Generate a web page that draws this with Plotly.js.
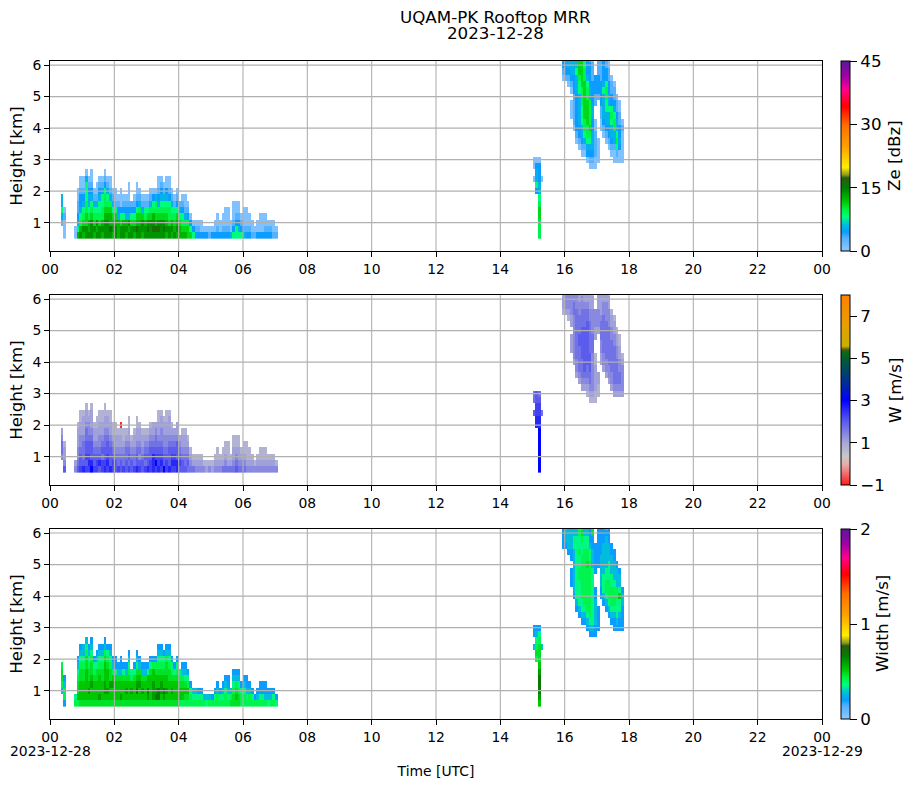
<!DOCTYPE html>
<html>
<head>
<meta charset="utf-8">
<script src="https://cdn.plot.ly/plotly-3.0.1.min.js"></script>
<style>body{margin:0;background:#fff}</style>
</head>
<body>
<div id="chart" style="width:914px;height:788px"></div>
<script>
// radar gates, km (centres)
var heightGates = [0.6,0.8,1.0,1.2,1.4,1.6,1.8,2.0,2.2,2.4,2.6,2.8,3.0,3.2,3.4,3.6,3.8,4.0,4.2,4.4,4.6,4.8,5.0,5.2,5.4,5.6,5.8,6.0,6.2];
var hourTicks = [0,2,4,6,8,10,12,14,16,18,20,22,24];
var hourLabels = ["00","02","04","06","08","10","12","14","16","18","20","22","00"];
var heightTicks = [1,2,3,4,5,6];

// one char per gate going up, "n:" = first gate index, "." = no echo
// each char is an index into the levels list of that field
var zeLevels = [0.8,3,4.5,5.6,8,9.5,11,12.5,14,16];
var wLevels = [0.8,1.1,1.4,1.7,2.0,2.3,2.6,3.0];
var widthLevels = [0.2,0.27,0.35,0.42,0.47,0.52,0.6,0.68];
var wDownward = -0.9; // the one red gate, char r

// 5 min columns, first one is column index given by start*
var startA = 4, startB = 180, startC = 191, startD = 9;

var zeA = ["2:13433","0:00010"];
var zeB = ["9:0.00","7:243320","0:5556654332220","9:0"];
var zeC = ["25:0122","25:1223","24:01233","19:000.012333","17:011111222333","15:01222222333433","14:012233333445666","13:0123344455566666","13:0134556666665544","12:02345566665543222","11:012345655553322221","11:012333223322221110","11:00111100..11222","12:0000......1222111","17:001122221111","16:0123333432222","15:01233445542211","14:012233433221100","13:0123345422110","12:0013355432110","12:01454332110","12:0023221100","12:0000010"];
var zeD = ["00","74321100","8754322100","7865432100","88665544430","8775433210","88865432100","78654310","878543100","8865443210","7875544310","88876554210","8887654310","8977653100","78764310","88764100","7773210","88642000","8874210","7873210","878321000","886421","7864210","897642100","88765310","7886310","8875410","8986410","88865310","89875420","89765530","8986532100","8886543210","898654310","7876543200","8865542100","78754310","8765410","78764210","776431","7654210","7653100","665210","6420","420","210","210","200","20","20","10","20","200","2100","200","2100","21000","21000","300","421000","442100","432100","4210","31000","21000","2100","100","10","200","2000","2000","2100","210","210","100","10"];

var wA = ["2:23321","0:42110"];
var wB = ["9:4.33","7:665544","0:7777777665543","9:3"];
var wC = ["25:0111","25:1222","24:01222","19:111.112222","17:122222223322","15:12233333333222","14:123333443332211","13:1233344444333221","13:1234444444333211","12:01233444444433211","11:012334443333322111","11:012222223332222110","11:00111100..11222","12:0011......1222111","17:112233321111","16:1223333332211","15:12233333322211","14:122333333222110","13:1223333322110","12:1233333322110","12:12333322110","12:1233221100","12:1222210"];
var wD = ["21","43221110","5443221100","6433321110","54544332110","5654432210","76444321110","54432110","554321100","4643221100","5534321100","65443321100","5654432110","6444321100","55432100","44321100","5332110","4432110r","5332100","4433210","534321100","443210","5332110","644321100","54232110","4432110","5343210","6443210","55443210","66643211","57543321","6554321100","5654322110","744322110","5543221100","6444321110","56543210","5654321","66444211","454321","4432110","4332110","343210","3210","310","210","210","210","20","10","20","10","210","2100","210","3100","32100","31000","310","321100","432100","321100","3210","32100","21000","2100","210","20","210","2100","2100","2100","210","210","210","20"];

var widthA = ["2:13443","0:03310"];
var widthB = ["9:1.00","7:343210","0:5677765444320","9:1"];
var widthC = ["25:0000","25:0113","24:01111","19:000.001111","17:011111112211","15:01222222222211","14:012222332232232","13:0122333333322342","13:0123333333332211","12:01233333334332211","11:012333333333221000","11:012222222221110043","11:00111100..00000","12:0000......0000000","17:001111100000","16:0122211111000","15:01233221111102","14:012333222111000","13:0123332211100","12:0012333211100","12:01222331110","12:0012252110","12:0000110"];
var widthD = ["32","35443210","4555443210","4555443211","45555544321","4565443210","45565443210","45554320","455544210","4655543210","4555443210","45665554310","4565554320","4556443210","45565310","45554200","4555410","46554100","4555420","4565410","455543210","456532","4555420","457654210","45565410","4565410","4555410","4675520","45555420","46665530","47655430","4775543210","4566543210","467554320","4565544310","4555443210","45654320","4555420","45554320","355432","3554310","3454210","345320","3320","321","321","320","320","31","21","31","30","320","3310","320","3210","33210","32100","431","443210","454310","443210","3320","33210","32100","3310","320","30","310","3200","3200","3100","210","310","320","20"];

var rainbow = [[0,"#90c8ff"],[0.07,"#50b0ff"],[0.1,"#0a9cff"],[0.14,"#00c0d8"],[0.18,"#00ff78"],[0.22,"#00f040"],[0.26,"#00c800"],[0.33,"#008000"],[0.385,"#2a5a10"],[0.4,"#8a9a20"],[0.44,"#ffee00"],[0.55,"#ffa000"],[0.66,"#ff7000"],[0.76,"#ff0000"],[0.85,"#ff0090"],[0.92,"#a000a8"],[1,"#5a189a"]];
var velocityScale = [[0,"#ff1a1a"],[0.105,"#e8a8a8"],[0.15,"#c8c8c8"],[0.222,"#a8a8d8"],[0.35,"#5050f0"],[0.447,"#0000ff"],[0.544,"#003090"],[0.63,"#005050"],[0.7,"#0a6a10"],[0.715,"#606010"],[0.73,"#c8b000"],[0.84,"#e8a000"],[1,"#ff8000"]];

var font = "DejaVu Sans, sans-serif";

function buildZ(levels, blocks) {
  var z = heightGates.map(function () { return new Array(288).fill(null); });
  blocks.forEach(function (b) {
    b.cols.forEach(function (s, i) {
      var first = 0, p = s.split(":");
      if (p.length > 1) { first = +p[0]; s = p[1]; }
      for (var j = 0; j < s.length; j++) {
        if (s[j] === ".") continue;
        z[first + j][b.start + i] = s[j] === "r" ? wDownward : levels[+s[j]];
      }
    });
  });
  return z;
}

function panel(n, levels, a, b, c, d, scale, zmin, zmax, ticks, dom) {
  return {
    type: "heatmap",
    x0: 1 / 24, dx: 1 / 12, y: heightGates,
    z: buildZ(levels, [{start: startA, cols: a}, {start: startB, cols: b}, {start: startC, cols: c}, {start: startD, cols: d}]),
    colorscale: scale, zmin: zmin, zmax: zmax, hoverongaps: false,
    xaxis: "x" + n, yaxis: "y" + n,
    colorbar: {
      x: 791 / 772, xanchor: "left", xpad: 0, ypad: 0,
      y: dom[0], yanchor: "bottom", len: dom[1] - dom[0], lenmode: "fraction",
      thickness: 9, thicknessmode: "pixels",
      outlinecolor: "black", outlinewidth: 1,
      tickmode: "array", tickvals: ticks, ticks: "outside", ticklen: 7, tickwidth: 1, tickcolor: "black",
      tickfont: {family: font, size: 16.7, color: "black"}
    }
  };
}

var domains = [[0.7112, 1], [0.3556, 0.6444], [0, 0.2888]];
var data = [
  panel("", zeLevels, zeA, zeB, zeC, zeD, rainbow, 0, 45, [0, 15, 30, 45], domains[0]),
  panel("2", wLevels, wA, wB, wC, wD, velocityScale, -1, 8, [-1, 1, 3, 5, 7], domains[1]),
  panel("3", widthLevels, widthA, widthB, widthC, widthD, rainbow, 0, 2, [0, 1, 2], domains[2])
];

function xAxis(anchor) {
  return {
    anchor: anchor, domain: [0, 1], range: [0, 24], tickmode: "array", tickvals: hourTicks, ticktext: hourLabels,
    ticks: "outside", ticklen: 5, tickwidth: 1, tickcolor: "black", showgrid: false, zeroline: false,
    showline: true, mirror: true, linecolor: "black", linewidth: 1,
    tickfont: {family: font, size: 13.9, color: "black"}, tickangle: 0
  };
}
function yAxis(anchor, dom) {
  return {
    anchor: anchor, domain: dom, range: [0.1, 6.13], tickmode: "array", tickvals: heightTicks,
    ticks: "outside", ticklen: 5, tickwidth: 1, tickcolor: "black", showgrid: false, zeroline: false,
    showline: true, mirror: true, linecolor: "black", linewidth: 1,
    tickfont: {family: font, size: 13.9, color: "black"},
    title: {text: "Height [km]", standoff: 5, font: {family: font, size: 16.7, color: "black"}}
  };
}

// grid sits over the data in the original, so shapes instead of axis gridlines
var shapes = [];
["", "2", "3"].forEach(function (n) {
  hourTicks.slice(1, -1).forEach(function (h) {
    shapes.push({type: "line", layer: "above", xref: "x" + n, yref: "y" + n + " domain", x0: h, x1: h, y0: 0, y1: 1, line: {color: "#b0b0b0", width: 1.1}});
  });
  heightTicks.forEach(function (k) {
    shapes.push({type: "line", layer: "above", xref: "x" + n + " domain", yref: "y" + n, x0: 0, x1: 1, y0: k, y1: k, line: {color: "#b0b0b0", width: 1.1}});
  });
});

// pixel helpers for the loose labels
function px(x) { return (x - 50) / 772; }
function py(y) { return (719 - y) / 658; }
function note(text, x, y, size, angle) {
  return {text: text, xref: "paper", yref: "paper", x: px(x), y: py(y), xanchor: "center", yanchor: "middle", showarrow: false, textangle: angle || 0, font: {family: font, size: size, color: "black"}};
}
var annotations = [
  note("UQAM-PK Rooftop MRR", 495, 17, 16.7),
  note("2023-12-28", 495, 33, 16.7),
  note("2023-12-28", 50, 751, 13.9),
  note("2023-12-29", 822, 751, 13.9),
  note("Ze [dBz]", 894, 156, 16.7, -90),
  note("W [m/s]", 895, 390, 16.7, -90),
  note("Width [m/s]", 882, 624, 16.7, -90)
];

var xaxis3 = xAxis("y3");
xaxis3.title = {text: "Time [UTC]", standoff: 22, font: {family: font, size: 13.9, color: "black"}};

var layout = {
  width: 914, height: 788,
  margin: {l: 50, r: 92, t: 61, b: 69, pad: 0, autoexpand: false},
  paper_bgcolor: "white", plot_bgcolor: "white",
  font: {family: font, color: "black"},
  xaxis: xAxis("y"), yaxis: yAxis("x", domains[0]),
  xaxis2: xAxis("y2"), yaxis2: yAxis("x2", domains[1]),
  xaxis3: xaxis3, yaxis3: yAxis("x3", domains[2]),
  shapes: shapes,
  annotations: annotations
};

Plotly.newPlot("chart", data, layout, {displayModeBar: false});
</script>
</body>
</html>
